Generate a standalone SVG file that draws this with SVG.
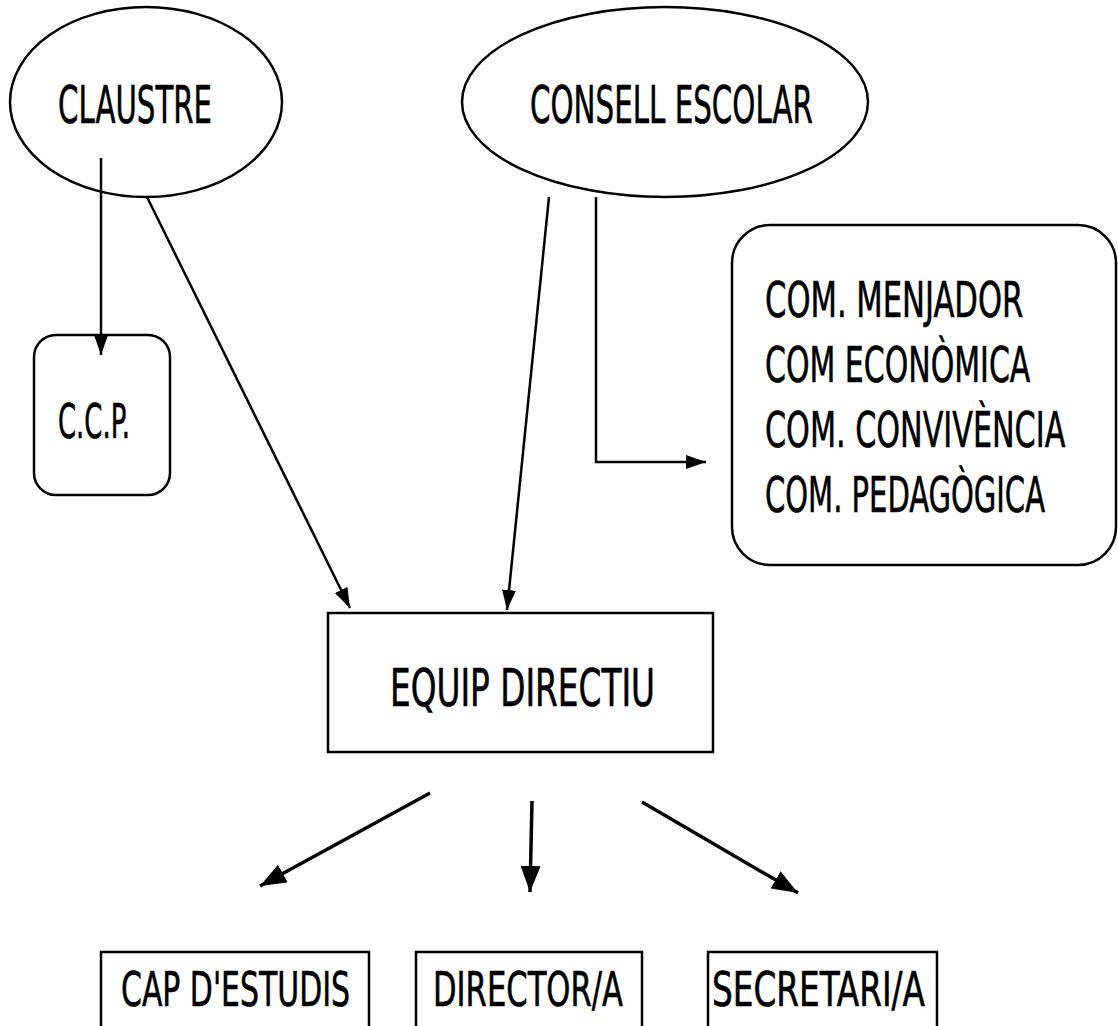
<svg xmlns="http://www.w3.org/2000/svg" width="1118" height="1026" viewBox="0 0 1118 1026">
<defs>
<marker id="ah" viewBox="0 0 20 14" refX="20" refY="7" markerWidth="20" markerHeight="14" markerUnits="userSpaceOnUse" orient="auto">
<path d="M0,0 L20,7 L0,14 Z" fill="#000"/>
</marker>
<marker id="ah2" viewBox="0 0 26 20" refX="26" refY="10" markerWidth="26" markerHeight="20" markerUnits="userSpaceOnUse" orient="auto">
<path d="M0,0 L26,10 L0,20 Z" fill="#000"/>
</marker>
<style>
.s{fill:#fff;stroke:#000;stroke-width:2.5}
.t{font-family:"DejaVu Sans Condensed","DejaVu Sans","Liberation Sans",sans-serif;font-stretch:condensed;fill:#000;stroke:#000;stroke-width:0.6}
.c{fill:none;stroke:#000;stroke-width:2.5;marker-end:url(#ah)}
.b{fill:none;stroke:#000;stroke-width:3.5;marker-end:url(#ah2)}
</style>
</defs>
<rect width="1118" height="1026" fill="#fff"/>
<g id="claustre">
<ellipse class="s" cx="146" cy="102" rx="136" ry="95"/>
<text class="t" x="58" y="123" font-size="52" textLength="154" lengthAdjust="spacingAndGlyphs">CLAUSTRE</text>
</g>
<g id="consell">
<ellipse class="s" cx="665" cy="102" rx="203" ry="95"/>
<text class="t" x="530" y="123" font-size="52" textLength="283" lengthAdjust="spacingAndGlyphs">CONSELL ESCOLAR</text>
</g>
<g id="ccp">
<rect class="s" x="34" y="335" width="136" height="160" rx="22"/>
<text class="t" x="58" y="438" font-size="48" textLength="72" lengthAdjust="spacingAndGlyphs">C.C.P.</text>
</g>
<g id="comissions">
<rect class="s" x="732" y="225" width="384" height="340" rx="38"/>
<text class="t" transform="translate(765,317) scale(0.7,1)" x="0" y="0" font-size="50" textLength="369" lengthAdjust="spacingAndGlyphs">COM. MENJADOR</text>
<text class="t" transform="translate(765,382) scale(0.7,1)" x="0" y="0" font-size="50" textLength="379" lengthAdjust="spacingAndGlyphs">COM ECONÒMICA</text>
<text class="t" transform="translate(765,447) scale(0.7,1)" x="0" y="0" font-size="50" textLength="429" lengthAdjust="spacingAndGlyphs">COM. CONVIVÈNCIA</text>
<text class="t" transform="translate(765,512) scale(0.7,1)" x="0" y="0" font-size="50" textLength="400" lengthAdjust="spacingAndGlyphs">COM. PEDAGÒGICA</text>
</g>
<g id="equip">
<rect class="s" x="328" y="613" width="385" height="139"/>
<text class="t" x="390" y="706" font-size="52" textLength="265" lengthAdjust="spacingAndGlyphs">EQUIP DIRECTIU</text>
</g>
<g id="cap">
<rect class="s" x="101" y="952" width="268" height="90"/>
<text class="t" x="121" y="1006" font-size="48" textLength="229" lengthAdjust="spacingAndGlyphs">CAP D'ESTUDIS</text>
</g>
<g id="director">
<rect class="s" x="416" y="952" width="226" height="90"/>
<text class="t" x="433" y="1006" font-size="48" textLength="190" lengthAdjust="spacingAndGlyphs">DIRECTOR/A</text>
</g>
<g id="secretari">
<rect class="s" x="708" y="952" width="229" height="90"/>
<text class="t" x="712" y="1006" font-size="48" textLength="213" lengthAdjust="spacingAndGlyphs">SECRETARI/A</text>
</g>
<g id="connectors">
<path class="c" d="M101,158 L101,355"/>
<path class="c" d="M147,197 L350,608"/>
<path class="c" d="M549,197 L507,610"/>
<path class="c" d="M596,197 L596,462 L706,462"/>
<path class="b" d="M430,793 L260,886"/>
<path class="b" d="M532,801 L530,892"/>
<path class="b" d="M642,802 L798,893"/>
</g>
</svg>
